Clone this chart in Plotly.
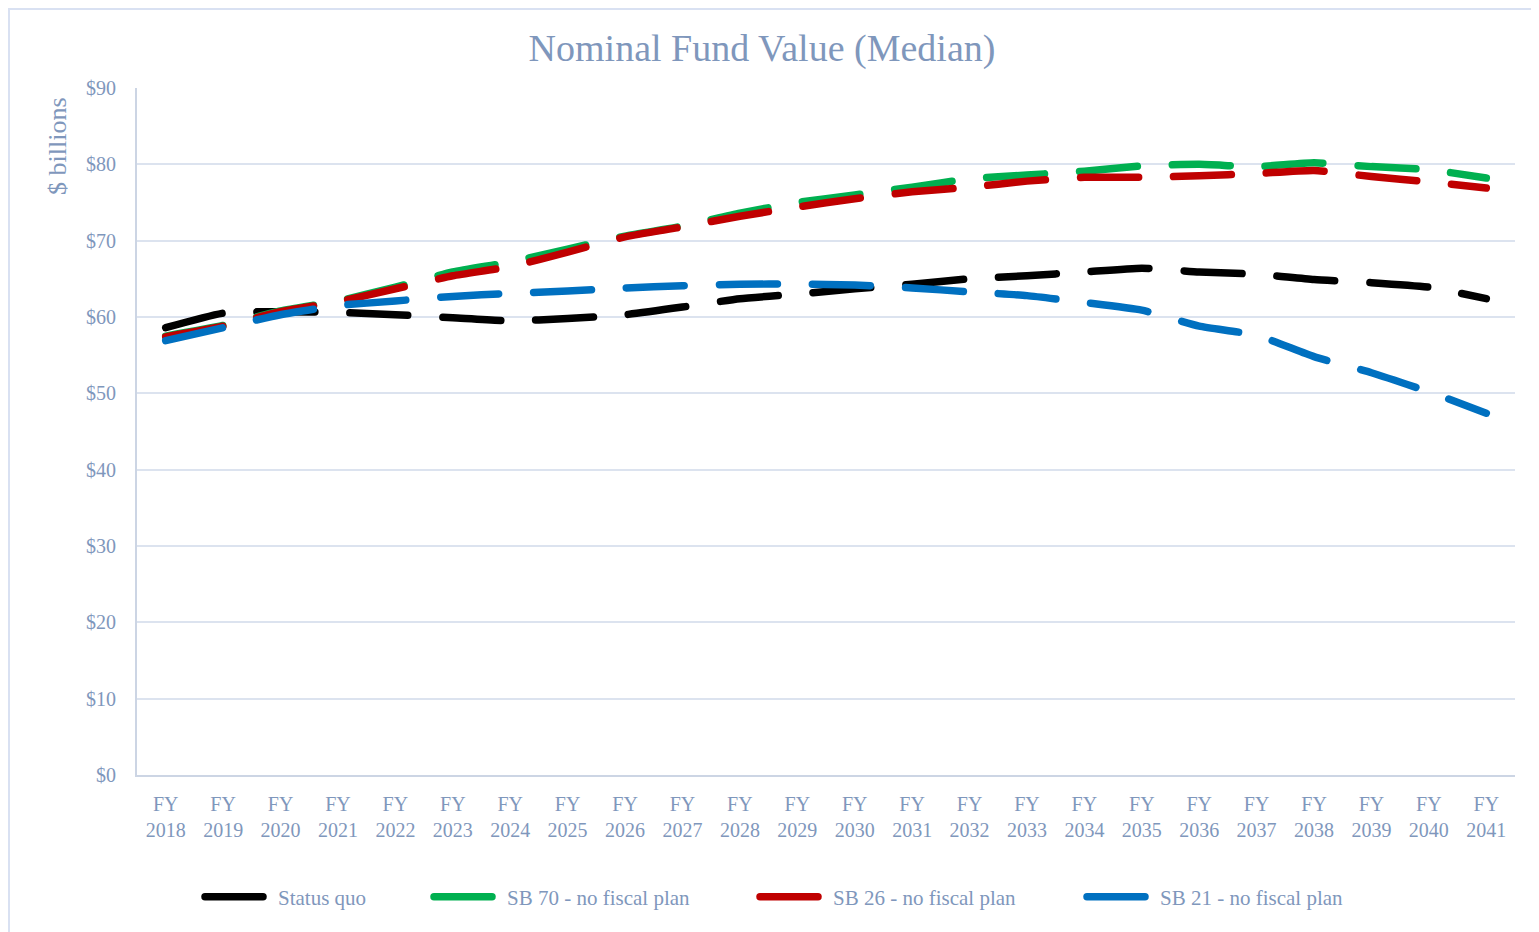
import plotly.graph_objects as go

years = [f"FY<br>{y}" for y in range(2018, 2042)]

status_quo = [58.6, 60.5, 60.7, 60.6, 60.3, 59.9, 59.5, 59.8, 60.3, 61.3, 62.4, 63.0,
              63.7, 64.3, 65.0, 65.4, 65.9, 66.4, 65.9, 65.6, 64.9, 64.5, 63.9, 62.4]
sb70 = [57.5, 58.9, 60.8, 62.1, 63.9, 65.9, 67.2, 68.9, 70.6, 71.9, 73.6, 75.0,
        76.0, 77.0, 78.1, 78.6, 79.1, 79.8, 80.0, 79.7, 80.2, 79.7, 79.3, 78.2]
sb26 = [57.4, 58.8, 60.7, 62.0, 63.7, 65.4, 66.6, 68.5, 70.5, 71.8, 73.2, 74.4,
        75.5, 76.4, 77.0, 77.8, 78.3, 78.3, 78.5, 78.8, 79.2, 78.4, 77.7, 76.9]
sb21 = [56.9, 58.6, 60.3, 61.5, 62.1, 62.7, 63.1, 63.4, 63.8, 64.1, 64.3, 64.3,
        64.2, 63.8, 63.3, 62.8, 61.9, 60.9, 58.8, 57.6, 54.8, 52.7, 50.2, 47.4]

series = [
    ("Status quo", status_quo, "#000000"),
    ("SB 70 - no fiscal plan", sb70, "#00B050"),
    ("SB 26 - no fiscal plan", sb26, "#C00000"),
    ("SB 21 - no fiscal plan", sb21, "#0070C0"),
]

y_ticks = list(range(0, 91, 10))
y_labels = [f"${v}" for v in y_ticks]

TXT = "#7F97BC"
FONT = "Liberation Serif"

# plot area in figure pixels
L, T, PW, PH = 129, 80, 1378, 687
W, H = 1539, 932

legend_x_px = [195, 424, 750, 1077]  # swatch starts (figure px)
legend_names = ["legend", "legend2", "legend3", "legend4"]

fig = go.Figure()
for (name, vals, color), lg in zip(series, legend_names):
    fig.add_trace(go.Scatter(
        x=years, y=vals, name=name, mode="lines", legend=lg,
        line=dict(color=color, width=7.5, dash="58px,35px", shape="spline", smoothing=0.5),
    ))

layout_legends = {}
for lg, px in zip(legend_names, legend_x_px):
    layout_legends[lg] = dict(
        orientation="h", x=(px - 3 - L) / PW, xanchor="left",
        y=(T + PH - 889) / PH, yanchor="middle",
        font=dict(family=FONT, size=21, color=TXT), itemwidth=68,
        bgcolor="rgba(0,0,0,0)", borderwidth=0,
    )

fig.update_layout(
    width=W, height=H,
    margin=dict(l=L, r=W - L - PW, t=T, b=H - T - PH),
    paper_bgcolor="white", plot_bgcolor="white",
    font=dict(family=FONT, color=TXT, size=20),
    title=dict(text="Nominal Fund Value (Median)", x=754 / W, xanchor="center",
               y=1 - 40 / H, yanchor="middle",
               font=dict(family=FONT, size=38, color=TXT)),
    showlegend=True,
    shapes=[dict(type="rect", xref="paper", yref="paper",
                 x0=(1 - L) / PW, x1=(W + 10 - L) / PW,
                 y0=(T + PH - H - 10) / PH, y1=(T + PH - 1) / PH,
                 line=dict(color="#D9E1F2", width=2), fillcolor="rgba(0,0,0,0)", layer="below")],
    annotations=[dict(text="$ billions", xref="paper", yref="paper",
                      x=(49 - L) / PW, y=(T + PH - 138) / PH, textangle=-90,
                      showarrow=False, xanchor="center", yanchor="middle",
                      font=dict(family=FONT, size=26, color=TXT))],
    **layout_legends,
)

fig.update_xaxes(
    type="category", range=[-0.5, 23.5], showgrid=False, showline=True,
    linecolor="#CCD5E4", linewidth=2,
    ticks="", tickfont=dict(family=FONT, size=20, color=TXT), ticklabelstandoff=10,
)
fig.update_yaxes(
    range=[0, 90], tickvals=y_ticks, ticktext=y_labels, showgrid=True,
    gridcolor="#DCE3EF", gridwidth=1.5, showline=True, linecolor="#CCD5E4", linewidth=2,
    zeroline=False, ticks="", tickfont=dict(family=FONT, size=20, color=TXT),
    ticklabelstandoff=15,
)

post = """
function rc(){
  document.querySelectorAll('.scatterlayer path.js-line, .legendlines path').forEach(function(p){
    p.style.strokeLinecap='round';
  });
}
rc(); setTimeout(rc, 50); setTimeout(rc, 300);
"""

fig.write_html("out.html", post_script=post)
